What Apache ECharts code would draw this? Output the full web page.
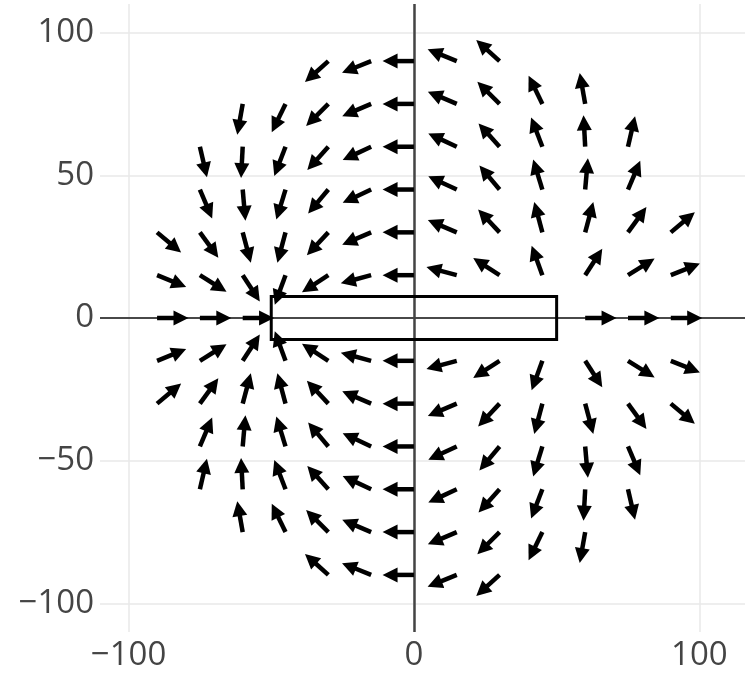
<!DOCTYPE html>
<html>
<head>
<meta charset="utf-8">
<script src="https://cdn.jsdelivr.net/npm/echarts@6/dist/echarts.min.js"></script>
<style>
  html, body { margin: 0; padding: 0; background: #fff; }
  #chart { width: 745px; height: 673px; }
</style>
</head>
<body>
<div id="chart"></div>
<script>
// rows of the arrow grid (y value), the x values on each row,
// and the arrow direction in degrees (0 = right, 90 = up)
var rowY = [90, 75, 60, 45, 30, 15, 0, -15, -30, -45, -60, -75, -90];
var rowX = [
  [-30, -15, 0, 15, 30],
  [-60, -45, -30, -15, 0, 15, 30, 45, 60],
  [-75, -60, -45, -30, -15, 0, 15, 30, 45, 60, 75],
  [-75, -60, -45, -30, -15, 0, 15, 30, 45, 60, 75],
  [-90, -75, -60, -45, -30, -15, 0, 15, 30, 45, 60, 75, 90],
  [-90, -75, -60, -45, -30, -15, 0, 15, 30, 45, 60, 75, 90],
  [-90, -75, -60, 60, 75, 90],
  [-90, -75, -60, -45, -30, -15, 0, 15, 30, 45, 60, 75, 90],
  [-90, -75, -60, -45, -30, -15, 0, 15, 30, 45, 60, 75, 90],
  [-75, -60, -45, -30, -15, 0, 15, 30, 45, 60, 75],
  [-75, -60, -45, -30, -15, 0, 15, 30, 45, 60, 75],
  [-60, -45, -30, -15, 0, 15, 30, 45, 60],
  [-30, -15, 0, 15, 30]
];
var rowAngle = [
  [222, 202, 180, 158, 138],
  [260, 244, 225, 203, 180, 157, 135, 116, 100],
  [283, 267, 249, 228, 205, 180, 155, 132, 111, 93, 77],
  [293, 275, 253, 230, 205, 180, 155, 130, 107, 85, 67],
  [320, 306, 285, 255, 227, 203, 180, 157, 133, 105, 75, 54, 40],
  [338, 328, 303, 250, 213, 195, 180, 165, 147, 110, 57, 32, 22],
  [0, 0, 0, 0, 0, 0],
  [22, 32, 57, 110, 147, 165, 180, 195, 213, 250, 303, 328, 338],
  [40, 54, 75, 105, 133, 157, 180, 203, 227, 255, 285, 306, 320],
  [67, 85, 107, 130, 155, 180, 205, 230, 253, 275, 293],
  [77, 93, 111, 132, 155, 180, 205, 228, 249, 267, 283],
  [100, 116, 135, 157, 180, 203, 225, 244, 260],
  [138, 158, 180, 202, 222]
];
// the bar magnet
var magnetX = [-50, 50];
var magnetY = [-7.5, 7.5];
// grid lines
var xTicks = [-100, 0, 100];
var yTicks = [-100, -50, 0, 50, 100];

var ARROW_LEN = 11;     // data units
var HEAD_LEN = 15;      // px
var HEAD_HALF = 7.5;    // px

var arrowData = [];
rowY.forEach(function (y, r) {
  rowX[r].forEach(function (x, i) {
    arrowData.push([x, y, rowAngle[r][i]]);
  });
});

function tickFmt(v) {
  return v < 0 ? '\u2212' + Math.abs(v) : String(v);
}

var GRID = '#e8e8e8';
var gridLines = xTicks.map(function (v) { return { xAxis: v }; })
  .concat(yTicks.map(function (v) { return { yAxis: v }; }));

var chart = echarts.init(document.getElementById('chart'));
var option = {
  animation: false,
  backgroundColor: '#fff',
  grid: { show: false, borderWidth: 0, borderColor: 'transparent', left: 100, right: 0, top: 4, bottom: 41, outerBoundsMode: 'none' },
  xAxis: {
    type: 'value',
    min: -110,
    max: 116,
    splitNumber: 2,
    axisLine: { show: false, onZero: false, lineStyle: { color: 'transparent', width: 0 } },
    axisTick: { show: false },
    splitLine: { show: false },
    splitArea: { show: false },
    axisLabel: {
      showMinLabel: false,
      showMaxLabel: false,
      fontFamily: 'Open Sans',
      fontSize: 33,
      color: '#444',
      margin: 7,
      formatter: tickFmt
    }
  },
  yAxis: {
    type: 'value',
    min: -110,
    max: 110,
    splitNumber: 4,
    axisLine: { show: false, onZero: false, lineStyle: { color: 'transparent', width: 0 } },
    axisTick: { show: false },
    splitLine: { show: false },
    splitArea: { show: false },
    axisLabel: {
      showMinLabel: false,
      showMaxLabel: false,
      fontFamily: 'Open Sans',
      fontSize: 33,
      color: '#444',
      margin: 6,
      formatter: tickFmt
    }
  },
  series: [
    {
      // light grid lines
      type: 'custom',
      z: 1,
      silent: true,
      data: [],
      renderItem: function () { return null; },
      markLine: {
        z: 1,
        silent: true,
        symbol: 'none',
        label: { show: false },
        lineStyle: { color: GRID, width: 1.5, type: 'solid' },
        data: gridLines
      }
    },
    {
      // magnet outline + zero lines
      type: 'custom',
      z: 2,
      silent: true,
      data: [[magnetX[0], magnetY[0], magnetX[1], magnetY[1]]],
      renderItem: function (params, api) {
        var a = api.coord([api.value(0), api.value(3)]);
        var b = api.coord([api.value(2), api.value(1)]);
        return {
          type: 'rect',
          shape: { x: a[0], y: a[1], width: b[0] - a[0], height: b[1] - a[1] },
          style: { fill: 'none', stroke: '#000', lineWidth: 3 }
        };
      },
      markLine: {
        z: 2,
        silent: true,
        symbol: 'none',
        label: { show: false },
        data: [
          { yAxis: 0, lineStyle: { color: '#111', width: 1.5, type: 'solid' } },
          { xAxis: 0, lineStyle: { color: '#444', width: 2.5, type: 'solid' } }
        ]
      }
    },
    {
      type: 'custom',
      z: 3,
      silent: true,
      data: arrowData,
      renderItem: function (params, api) {
        var x = api.value(0), y = api.value(1);
        var ang = api.value(2) * Math.PI / 180;
        var p0 = api.coord([x, y]);
        var p1 = api.coord([x + ARROW_LEN * Math.cos(ang), y + ARROW_LEN * Math.sin(ang)]);
        var dx = p1[0] - p0[0], dy = p1[1] - p0[1];
        var len = Math.sqrt(dx * dx + dy * dy);
        var ux = dx / len, uy = dy / len;
        var bx = p1[0] - ux * HEAD_LEN, by = p1[1] - uy * HEAD_LEN;
        return {
          type: 'group',
          children: [
            {
              type: 'line',
              shape: { x1: p0[0], y1: p0[1], x2: bx + ux * 4, y2: by + uy * 4 },
              style: { stroke: '#000', lineWidth: 4.5 }
            },
            {
              type: 'polygon',
              shape: {
                points: [
                  [p1[0], p1[1]],
                  [bx - uy * HEAD_HALF, by + ux * HEAD_HALF],
                  [bx + uy * HEAD_HALF, by - ux * HEAD_HALF]
                ]
              },
              style: { fill: '#000' }
            }
          ]
        };
      }
    }
  ]
};
chart.setOption(option);
</script>
</body>
</html>
